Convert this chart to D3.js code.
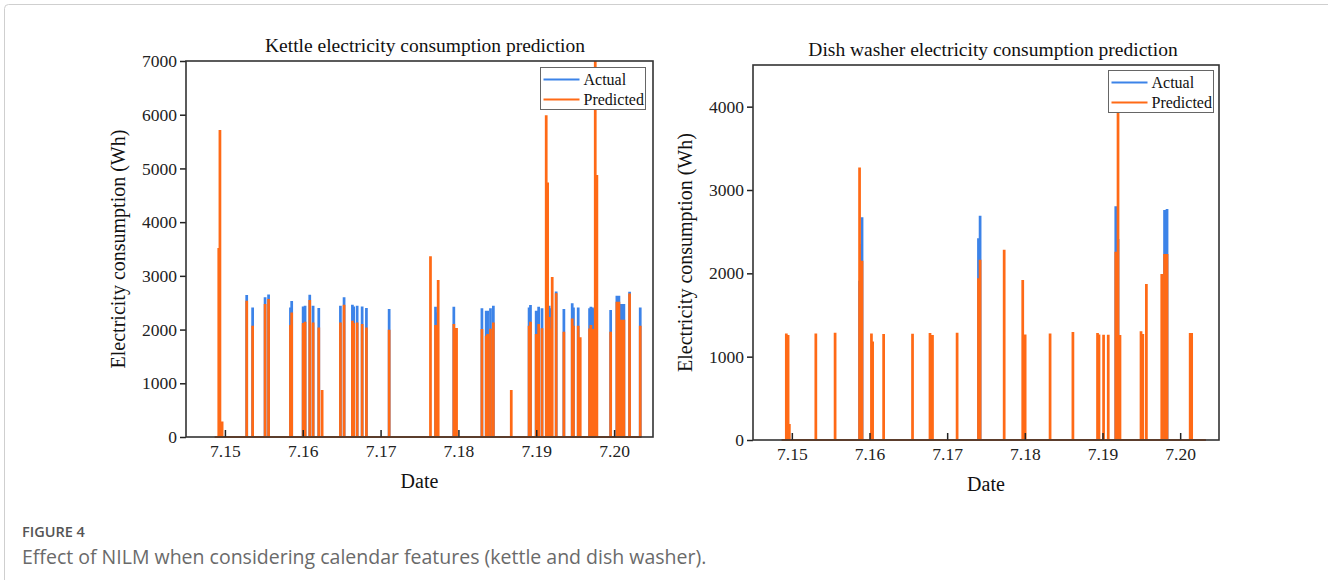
<!DOCTYPE html>
<html>
<head>
<meta charset="utf-8">
<script src="https://cdn.jsdelivr.net/npm/d3@7"></script>
<style>
  body { margin: 0; background: #fff; }
  svg { display: block; }
</style>
</head>
<body>
<svg id="fig" width="1328" height="580"></svg>
<script>
// kettle: date, actual (Wh), predicted (Wh)
const kettleDates = [7.14915, 7.1493, 7.14958, 7.15274, 7.1535, 7.1551, 7.15555, 7.15836, 7.15852, 7.15999,
  7.16024, 7.16084, 7.16127, 7.162, 7.16243, 7.16478, 7.16525, 7.16632, 7.16648, 7.16693,
  7.16757, 7.16812, 7.17104, 7.17635, 7.177, 7.17716, 7.17734, 7.17935, 7.1797, 7.18296,
  7.18351, 7.18369, 7.18406, 7.18443, 7.18673, 7.18902, 7.1892, 7.18993, 7.19025, 7.19068,
  7.19122, 7.1914, 7.1916, 7.19177, 7.19199, 7.1925, 7.19349, 7.19456, 7.19472, 7.19533,
  7.19559, 7.19679, 7.19696, 7.19717, 7.19734, 7.19752, 7.19773, 7.1995, 7.2003, 7.20056,
  7.2009, 7.2012, 7.20193, 7.2033];
const kettleActual = [0, 0, 0, 2626, 2396, 2583, 2638, 2396, 2514, 2415,
  2427, 2632, 2427, 2384, 0, 2427, 2583, 2446, 2415, 2427,
  2415, 2384, 2365, 0, 2408, 2303, 0, 2408, 0, 2378,
  2334, 2334, 2378, 2427, 0, 2396, 2439, 2334, 2408, 2378,
  0, 0, 2427, 2378, 0, 2690, 2365, 2471, 2396, 2396,
  0, 2378, 2408, 2396, 2365, 0, 0, 2346, 2613, 2613,
  2458, 2458, 2688, 2396];
const kettlePredicted = [3500, 5700, 270, 2520, 2054, 2458, 2551, 2067, 2303, 2104,
  2129, 2533, 2117, 2024, 857, 2117, 2446, 2148, 2104, 2117,
  2085, 2024, 1980, 3350, 2067, 1756, 2905, 2085, 2011, 1993,
  1868, 1900, 2000, 2117, 860, 2054, 2129, 1900, 2085, 2010,
  5975, 4720, 2216, 2005, 2960, 2660, 1942, 2191, 2054, 2054,
  1838, 2005, 2067, 1993, 1960, 7300, 4860, 1942, 2501, 2501,
  2166, 2166, 2657, 2054];
const kettleRange = [7.1487, 7.2035];
const kettleYTicks = [0, 1000, 2000, 3000, 4000, 5000, 6000, 7000];

// dish washer
const dishDates = [7.14923, 7.14946, 7.14962, 7.15303, 7.15551, 7.15866, 7.15882, 7.15898, 7.16019, 7.16034,
  7.16176, 7.16548, 7.16773, 7.16805, 7.17122, 7.17397, 7.17418, 7.17728, 7.17967, 7.17998,
  7.18319, 7.18613, 7.1893, 7.18949, 7.19008, 7.19068, 7.19165, 7.19194, 7.19219, 7.1949,
  7.19513, 7.19559, 7.19757, 7.19793, 7.19825, 7.20123, 7.20142];
const dishActual = [0, 0, 0, 0, 0, 1900, 2340, 2661, 0, 0,
  0, 0, 0, 0, 0, 2409, 2681, 0, 0, 0,
  0, 0, 0, 0, 0, 0, 2793, 2400, 0, 0,
  0, 0, 0, 2749, 2761, 0, 0];
const dishPredicted = [1268, 1248, 180, 1268, 1276, 3260, 2130, 2140, 1268, 1170,
  1260, 1264, 1272, 1248, 1276, 1929, 2153, 2273, 1909, 1256,
  1268, 1284, 1272, 1256, 1252, 1252, 2249, 3920, 1248, 1293,
  1260, 1861, 1981, 2221, 2221, 1272, 1272];
const dishRange = [7.1487, 7.2033];
const dishYTicks = [0, 1000, 2000, 3000, 4000];

const dateTicks = [7.15, 7.16, 7.17, 7.18, 7.19, 7.20];
const seriesNames = ["Actual", "Predicted"];
const colors = ["#3c83e8", "#ff6a16"];

const svg = d3.select("#fig");
const serif = "'Liberation Serif', 'Times New Roman', serif";

// page frame
svg.append("rect")
  .attr("x", 4.5).attr("y", 4.5)
  .attr("width", 1340).attr("height", 620)
  .attr("rx", 4)
  .attr("fill", "none")
  .attr("stroke", "#cfcfcf");

// turn sample events into a square-pulse line
function pulses(dates, vals, range) {
  var w = 0.00012;
  var pts = [[range[0], 0]];
  for (let i = 0; i < dates.length; i++) {
    pts.push([dates[i], 0], [dates[i], vals[i]], [dates[i] + w, vals[i]], [dates[i] + w, 0]);
  }
  pts.push([range[1], 0]);
  return pts;
}

function drawChart(opt) {
  var g = svg.append("g");
  var x = d3.scaleLinear().domain([7.145, 7.205]).range([opt.left, opt.right]);
  var y = d3.scaleLinear().domain([0, opt.yMax]).range([opt.bottom, opt.top]);

  var clipId = "clip-" + opt.id;
  g.append("clipPath").attr("id", clipId)
    .append("rect")
    .attr("x", opt.left).attr("y", opt.top)
    .attr("width", opt.right - opt.left).attr("height", opt.bottom - opt.top + 1);

  var line = d3.line().x(d => x(d[0])).y(d => y(d[1]));
  var series = [opt.actual, opt.predicted];
  series.forEach(function (vals, k) {
    g.append("path")
      .datum(pulses(opt.dates, vals, opt.range))
      .attr("clip-path", "url(#" + clipId + ")")
      .attr("d", line)
      .attr("fill", "none")
      .attr("stroke", colors[k])
      .attr("stroke-width", 1.8)
      .attr("stroke-linejoin", "miter");
  });

  // y axis, outward ticks
  var yAxis = g.append("g")
    .attr("transform", "translate(" + opt.left + ",0)")
    .call(d3.axisLeft(y).tickValues(opt.yTicks).tickFormat(d3.format("d")).tickSize(6).tickSizeOuter(0).tickPadding(3));
  // x axis, inward ticks
  var xAxis = g.append("g")
    .attr("transform", "translate(0," + opt.bottom + ")")
    .call(d3.axisBottom(x).tickValues(dateTicks).tickFormat(d3.format(".2f")).tickSize(-7).tickSizeOuter(0).tickPadding(8));
  [yAxis, xAxis].forEach(function (a) {
    a.select(".domain").remove();
    a.selectAll("line").attr("stroke", "#222").attr("stroke-width", 1.5);
    a.selectAll("text").attr("font-family", serif).attr("font-size", 17.5).attr("fill", "#222");
  });

  // frame
  g.append("rect")
    .attr("x", opt.left).attr("y", opt.top)
    .attr("width", opt.right - opt.left).attr("height", opt.bottom - opt.top)
    .attr("fill", "none")
    .attr("stroke", "#333")
    .attr("stroke-width", 1.6);

  g.append("text")
    .attr("x", opt.titleX).attr("y", opt.titleY)
    .attr("text-anchor", "middle")
    .attr("font-family", serif).attr("font-size", 19.5).attr("fill", "#111")
    .text(opt.title);

  g.append("text")
    .attr("x", (opt.left + opt.right) / 2).attr("y", opt.bottom + 51)
    .attr("text-anchor", "middle")
    .attr("font-family", serif).attr("font-size", 20).attr("fill", "#111")
    .text("Date");

  g.append("text")
    .attr("transform", "translate(" + (opt.left - 61) + "," + ((opt.top + opt.bottom) / 2) + ") rotate(-90)")
    .attr("text-anchor", "middle")
    .attr("font-family", serif).attr("font-size", 20).attr("fill", "#111")
    .text("Electricity consumption (Wh)");

  // legend
  var lg = g.append("g").attr("transform", "translate(" + opt.legend[0] + "," + opt.legend[1] + ")");
  lg.append("rect")
    .attr("width", 105).attr("height", 42)
    .attr("fill", "#fff")
    .attr("stroke", "#666").attr("stroke-width", 1);
  seriesNames.forEach(function (name, k) {
    var yy = 12 + k * 20;
    lg.append("line")
      .attr("x1", 3).attr("x2", 39).attr("y1", yy).attr("y2", yy)
      .attr("stroke", colors[k]).attr("stroke-width", 2);
    lg.append("text")
      .attr("x", 43).attr("y", yy + 5)
      .attr("font-family", serif).attr("font-size", 16).attr("fill", "#111")
      .text(name);
  });
}

drawChart({
  id: "kettle", title: "Kettle electricity consumption prediction",
  left: 186, right: 653, top: 61, bottom: 437, yMax: 7000, yTicks: kettleYTicks,
  dates: kettleDates, actual: kettleActual, predicted: kettlePredicted, range: kettleRange,
  titleX: 425, titleY: 52, legend: [540.5, 67.5]
});

drawChart({
  id: "dish", title: "Dish washer electricity consumption prediction",
  left: 753, right: 1219, top: 65, bottom: 440, yMax: 4500, yTicks: dishYTicks,
  dates: dishDates, actual: dishActual, predicted: dishPredicted, range: dishRange,
  titleX: 993, titleY: 56, legend: [1108.5, 70.5]
});

// caption
svg.append("text")
  .attr("x", 22).attr("y", 537)
  .attr("font-family", "'Open Sans', sans-serif").attr("font-size", 14.5).attr("font-weight", 600)
  .attr("fill", "#555")
  .text("FIGURE 4");
svg.append("text")
  .attr("x", 22).attr("y", 564)
  .attr("font-family", "'Open Sans', sans-serif").attr("font-size", 19.5)
  .attr("fill", "#6a6a6a")
  .text("Effect of NILM when considering calendar features (kettle and dish washer).");
</script>
</body>
</html>
